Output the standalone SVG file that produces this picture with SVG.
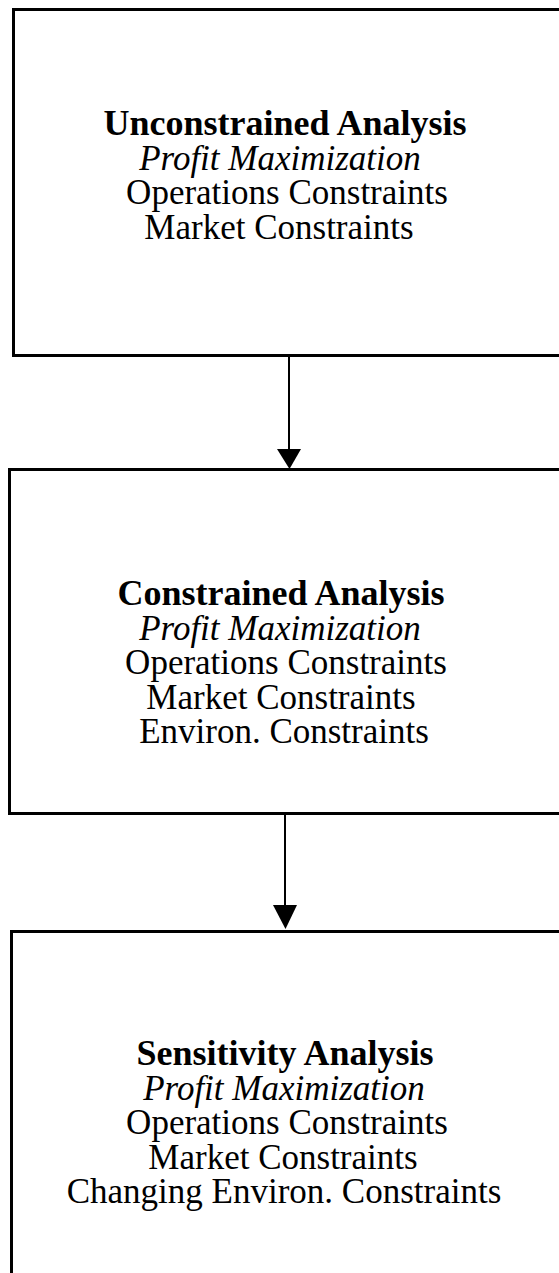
<svg xmlns="http://www.w3.org/2000/svg" width="559" height="1273" viewBox="0 0 559 1273">
<style>
.box{fill:#fff;stroke:#000;stroke-width:3}
.t{font-family:"Liberation Serif","Times New Roman",serif;font-size:35px;fill:#000;text-anchor:middle}
.b{font-weight:bold;font-size:36px}
.i{font-style:italic}
.edge{stroke:#000;stroke-width:2;fill:none}
</style>
<rect width="559" height="1273" fill="#fff"/>
<g id="node-unconstrained">
<rect class="box" x="13.5" y="9.5" width="560" height="346"/>
<text class="t b" x="285" y="135">Unconstrained Analysis</text>
<text class="t i" x="280" y="169.5">Profit Maximization</text>
<text class="t" x="287" y="204">Operations Constraints</text>
<text class="t" x="279" y="238.5">Market Constraints</text>
</g>
<g id="node-constrained">
<rect class="box" x="9.5" y="469.5" width="560" height="344"/>
<text class="t b" x="281" y="605">Constrained Analysis</text>
<text class="t i" x="280" y="639.5">Profit Maximization</text>
<text class="t" x="286" y="674">Operations Constraints</text>
<text class="t" x="281" y="708.5">Market Constraints</text>
<text class="t" x="284" y="743">Environ. Constraints</text>
</g>
<g id="node-sensitivity">
<rect class="box" x="11.5" y="931.5" width="560" height="360"/>
<text class="t b" x="285" y="1065">Sensitivity Analysis</text>
<text class="t i" x="284" y="1099.5">Profit Maximization</text>
<text class="t" x="287" y="1134">Operations Constraints</text>
<text class="t" x="283" y="1168.5">Market Constraints</text>
<text class="t" x="284" y="1203">Changing Environ. Constraints</text>
</g>
<g id="connectors">
<line class="edge" x1="289" y1="357" x2="289" y2="452"/>
<polygon points="277,449 301,449 289.5,469" fill="#000"/>
<line class="edge" x1="285" y1="815" x2="285" y2="907"/>
<polygon points="273,905 297,905 285.5,929" fill="#000"/>
</g>
</svg>
